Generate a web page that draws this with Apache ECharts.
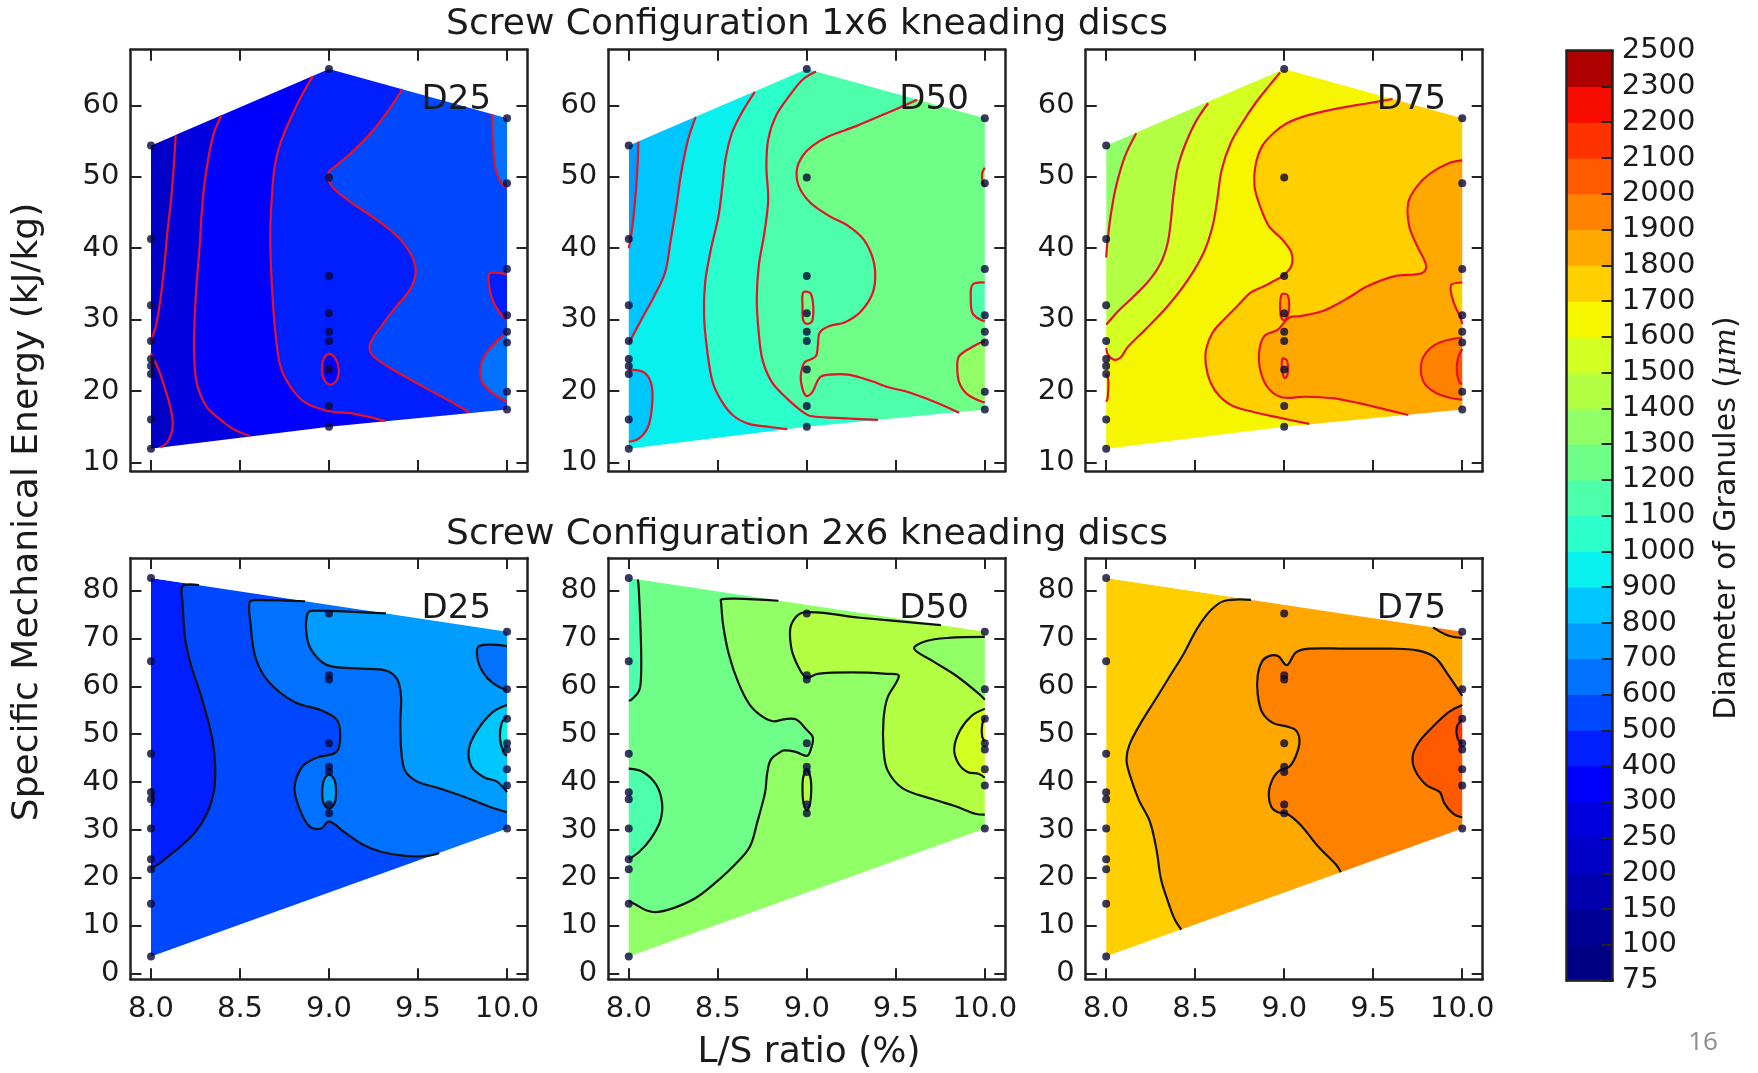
<!DOCTYPE html>
<html>
<head>
<meta charset="utf-8">
<title>Granule diameter contours</title>
<script src="https://cdn.jsdelivr.net/npm/echarts@6.0.0/dist/echarts.min.js"></script>
<style>
  html, body { margin: 0; padding: 0; background: #fff; }
  #main { width: 1758px; height: 1073px; }
</style>
</head>
<body>
<div id="main"></div>
<script>
// contour levels of the colour bar (um)
const levels = [75, 100, 150, 200, 250, 300, 400, 500, 600, 700, 800, 900, 1000, 1100, 1200,
  1300, 1400, 1500, 1600, 1700, 1800, 1900, 2000, 2100, 2200, 2300, 2500];
const xTicks = [8, 8.5, 9, 9.5, 10];
const yTicks1x6 = [10, 20, 30, 40, 50, 60];
const yTicks2x6 = [0, 10, 20, 30, 40, 50, 60, 70, 80];
const panelNames = ['D25', 'D50', 'D75'];
const rowTitles = ['Screw Configuration 1x6 kneading discs', 'Screw Configuration 2x6 kneading discs'];

// measured runs [L/S ratio, SME]
const pts1x6 = [[8, 54.4], [8, 41.3], [8, 32.0], [8, 27.0], [8, 24.5], [8, 23.5], [8, 22.4], [8, 16.0], [8, 11.9],
  [9, 65.1], [9, 49.9], [9, 36.1], [9, 30.9], [9, 28.3], [9, 27.0], [9, 23.0], [9, 17.9], [9, 15.0],
  [10, 58.2], [10, 49.1], [10, 37.1], [10, 30.6], [10, 28.3], [10, 26.8], [10, 19.9], [10, 17.4]];
const pts2x6 = [[8, 82.6], [8, 65.2], [8, 45.9], [8, 37.9], [8, 36.4], [8, 30.3], [8, 23.9], [8, 21.8], [8, 14.6], [8, 3.6],
  [9, 75.2], [9, 62.3], [9, 61.4], [9, 48.1], [9, 43.2], [9, 42.1], [9, 35.3], [9, 33.5],
  [10, 71.4], [10, 59.4], [10, 53.2], [10, 48.1], [10, 46.8], [10, 42.7], [10, 39.3], [10, 30.3]];

// outline of the triangulated area (upper and lower chains)
const hull1x6Top = [[8, 54.4], [9, 65.1], [10, 58.2]];
const hull1x6Bot = [[8, 11.9], [9, 15.0], [10, 17.4]];
const hull2x6Top = [[8, 82.6], [10, 71.4]];
const hull2x6Bot = [[8, 3.6], [10, 30.3]];

// ---- contour lines, 1x6, D25
const a25_A = [[8.139, 55.8], [8.128, 51.5], [8.113, 46.8], [8.092, 42.2], [8.075, 37.5], [8.053, 32.8], [8.028, 29.1], [8.006, 27.4], [8.0, 26.9]];
const a25_B = [[8.0, 25.3], [8.043, 23.0], [8.079, 20.3], [8.111, 17.5], [8.122, 15.1], [8.096, 13.0], [8.053, 12.1]];
const a25_C = [[8.396, 58.6], [8.353, 56.1], [8.321, 52.4], [8.299, 48.7], [8.284, 44.5], [8.272, 39.8], [8.257, 35.2], [8.246, 30.5], [8.242, 25.8], [8.257, 21.2], [8.310, 17.9], [8.385, 16.1], [8.460, 14.7], [8.556, 13.7]];
const a25_D = [[8.909, 64.1], [8.845, 61.3], [8.781, 58.0], [8.727, 54.7], [8.695, 51.5], [8.678, 46.8], [8.670, 42.2], [8.674, 37.5], [8.684, 32.8], [8.699, 28.2], [8.727, 23.5], [8.781, 20.7], [8.866, 18.4], [8.995, 17.2], [9.144, 16.8], [9.316, 15.8]];
const a25_E = [[9.412, 62.3], [9.337, 59.4], [9.251, 56.6], [9.144, 53.8], [9.048, 51.7], [8.995, 50.5], [9.016, 48.7], [9.102, 46.8], [9.209, 45.0], [9.316, 43.1], [9.401, 41.2], [9.465, 38.9], [9.487, 36.6], [9.455, 34.2], [9.380, 31.9], [9.294, 29.1], [9.234, 26.8], [9.234, 25.4], [9.294, 24.0], [9.422, 22.1], [9.551, 20.3], [9.679, 18.6], [9.786, 17.0]];
const a25_F = [[9.914, 58.8], [9.921, 55.2], [9.932, 51.5], [9.961, 49.4], [10, 48.4]];
const a25_G1 = [[10, 36.3], [9.904, 36.5], [9.899, 34.7], [9.925, 32.4], [9.968, 30.7], [10, 30.0]];
const a25_G2 = [[10, 28.2], [9.936, 26.8], [9.872, 24.9], [9.850, 23.0], [9.861, 21.2], [9.914, 19.8], [9.989, 18.6], [10, 18.5]];
const a25_H = [[9.0, 25.2], [9.035, 24.6], [9.055, 23.0], [9.045, 21.6], [9.01, 20.9], [8.975, 21.5], [8.96, 23.0], [8.97, 24.5], [9.0, 25.2]];

// ---- contour lines, 1x6, D50
const a50_L1 = [[8.054, 54.9], [8.050, 52.0], [8.040, 48.0], [8.025, 44.0], [8.008, 41.0], [8.0, 40.0]];
const a50_L2 = [[8.376, 58.4], [8.333, 55.2], [8.294, 50.5], [8.268, 46.0], [8.236, 41.2], [8.204, 36.6], [8.139, 33.1], [8.075, 30.2], [8.011, 27.2], [8.0, 26.8]];
const a50_L3 = [[8.0, 23.0], [8.086, 22.6], [8.129, 20.7], [8.129, 17.5], [8.107, 14.9], [8.054, 13.3], [8.0, 12.9]];
const a50_L4 = [[8.708, 61.9], [8.633, 58.9], [8.579, 56.1], [8.543, 52.4], [8.526, 48.7], [8.504, 44.5], [8.461, 39.8], [8.429, 35.2], [8.423, 30.5], [8.440, 25.8], [8.472, 21.2], [8.526, 18.4], [8.590, 16.5], [8.676, 15.4], [8.783, 15.0], [8.891, 14.66]];
const a50_L5 = [[9.052, 64.75], [8.976, 63.6], [8.901, 61.3], [8.826, 58.5], [8.783, 55.2], [8.773, 51.5], [8.783, 46.8], [8.762, 42.2], [8.730, 37.5], [8.719, 32.8], [8.730, 28.2], [8.751, 24.4], [8.805, 21.2], [8.891, 18.9], [8.955, 17.5], [8.994, 16.8], [9.019, 16.5], [9.105, 16.3], [9.234, 16.15], [9.40, 15.96]];
const a50_L6 = [[9.620, 60.8], [9.448, 58.9], [9.277, 57.1], [9.127, 55.7], [9.030, 54.3], [8.976, 52.9], [8.944, 51.0], [8.955, 48.7], [9.019, 46.4], [9.127, 44.5], [9.234, 43.1], [9.320, 41.2], [9.373, 38.4], [9.384, 35.6], [9.363, 33.3], [9.298, 31.0], [9.212, 29.6], [9.127, 29.1], [9.073, 28.2], [9.062, 26.3], [9.052, 24.9], [9.019, 24.4], [8.987, 24.0], [8.966, 22.1], [8.976, 20.3], [8.998, 19.3], [9.030, 19.8], [9.073, 21.9], [9.127, 22.3], [9.234, 22.3], [9.363, 21.4], [9.448, 20.6], [9.577, 19.8], [9.706, 18.6], [9.792, 17.7], [9.856, 16.95]];
const a50_L7 = [[10, 35.2], [9.931, 34.9], [9.921, 32.8], [9.931, 30.9], [9.974, 30.0], [10, 29.8]];
const a50_L8 = [[10, 27.0], [9.931, 26.2], [9.856, 24.9], [9.845, 23.5], [9.856, 21.2], [9.899, 19.6], [9.974, 18.6], [10, 18.4]];
const a50_L9 = [[8.98, 33.8], [9.02, 33.7], [9.036, 31.9], [9.03, 29.8], [9.0, 29.4], [8.98, 29.9], [8.976, 31.9], [8.98, 33.8]];
const a50_L10 = [[10, 51.3], [9.985, 50.5], [9.988, 49.2], [10, 48.6]];

// ---- contour lines, 1x6, D75
const a75_M1 = [[8.169, 56.1], [8.106, 52.9], [8.056, 48.7], [8.025, 44.5], [8.005, 40.3], [8.0, 38.7]];
const a75_M2 = [[8.573, 60.3], [8.505, 57.8], [8.447, 54.7], [8.404, 51.5], [8.379, 47.7], [8.364, 44.0], [8.346, 40.8], [8.308, 38.0], [8.245, 35.6], [8.157, 33.3], [8.068, 31.2], [8.018, 29.8], [8.0, 29.3]];
const a75_M3 = [[8.977, 64.6], [8.914, 62.7], [8.838, 60.3], [8.763, 57.5], [8.699, 54.7], [8.649, 51.0], [8.624, 46.8], [8.598, 43.1], [8.548, 39.4], [8.460, 35.6], [8.346, 31.9], [8.220, 28.6], [8.119, 26.1], [8.081, 24.7], [8.043, 24.4], [8.010, 25.1], [8.0, 26.0]];
const a75_Ms = [[8.0, 22.4], [8.012, 21.5], [8.008, 19.0], [8.0, 18.5]];
const a75_M4 = [[9.609, 60.9], [9.470, 60.3], [9.268, 59.4], [9.116, 58.5], [9.015, 57.5], [8.939, 56.1], [8.876, 54.3], [8.838, 51.5], [8.833, 48.7], [8.864, 45.9], [8.914, 43.1], [8.990, 41.2], [9.040, 39.4], [9.040, 37.5], [8.990, 36.1], [8.927, 35.2], [8.889, 34.7], [8.813, 33.8], [8.737, 31.9], [8.662, 30.0], [8.598, 28.2], [8.561, 25.8], [8.561, 23.5], [8.586, 21.2], [8.636, 19.3], [8.712, 17.9], [8.838, 17.0], [8.965, 16.3], [9.141, 15.4]];
const a75_M5 = [[10, 52.3], [9.924, 51.9], [9.823, 50.5], [9.747, 48.7], [9.697, 46.4], [9.702, 43.1], [9.747, 40.3], [9.798, 37.5], [9.773, 36.5], [9.621, 36.1], [9.470, 34.7], [9.343, 32.8], [9.217, 31.2], [9.091, 30.5], [9.028, 30.3], [8.965, 28.6], [8.889, 27.7], [8.859, 25.4], [8.869, 22.6], [8.914, 20.3], [8.990, 19.1], [9.116, 19.2], [9.268, 19.0], [9.419, 18.3], [9.571, 17.4], [9.697, 16.65]];
const a75_M6a = [[10, 35.2], [9.94, 34.9], [9.937, 33.8], [9.96, 31.9], [9.99, 30.3], [10, 29.4]];
const a75_M6b = [[10, 27.5], [9.874, 26.8], [9.798, 25.4], [9.768, 23.5], [9.785, 21.2], [9.848, 19.8], [9.924, 19.1], [10, 18.8]];
const a75_M7 = [[10, 25.9], [9.975, 24.5], [9.97, 22.6], [9.985, 21.2], [10, 21.0]];
const a75_M8 = [[8.985, 33.5], [9.02, 33.4], [9.025, 31.0], [9.0, 29.9], [8.98, 30.6], [8.985, 33.5]];
const a75_M9 = [[8.99, 24.5], [9.015, 24.3], [9.02, 22.5], [9.005, 21.8], [8.99, 22.6], [8.99, 24.5]];

// ---- contour lines, 2x6, D25
const b25_N1 = [[8.27, 81.1], [8.178, 80.9], [8.178, 77.3], [8.193, 69.8], [8.225, 64.4], [8.272, 59.1], [8.314, 53.8], [8.347, 48.5], [8.361, 43.2], [8.353, 37.9], [8.314, 33.4], [8.250, 29.6], [8.165, 26.5], [8.101, 24.6], [8.036, 22.7], [8.0, 22.0]];
const b25_N2 = [[8.866, 77.75], [8.6, 78.0], [8.554, 77.6], [8.560, 72.8], [8.582, 66.7], [8.635, 62.2], [8.721, 58.8], [8.817, 56.5], [8.892, 55.7], [8.956, 55.0], [9.042, 53.1], [9.063, 50.0], [9.042, 46.3], [8.930, 45.1], [8.849, 43.2], [8.806, 38.7], [8.838, 34.1], [8.892, 30.7], [8.956, 30.3], [8.999, 31.8], [9.085, 29.6], [9.191, 26.9], [9.298, 25.4], [9.426, 24.6], [9.555, 24.6], [9.619, 25.2]];
const b25_N3 = [[9.32, 75.2], [8.913, 75.8], [8.881, 75.3], [8.871, 72.0], [8.892, 68.2], [8.956, 65.2], [9.020, 64.1], [9.191, 63.7], [9.319, 63.3], [9.384, 61.4], [9.405, 57.6], [9.401, 53.1], [9.405, 47.0], [9.426, 42.5], [9.491, 40.2], [9.619, 38.7], [9.769, 36.8], [9.897, 34.9], [10, 33.7]];
const b25_N4 = [[10, 68.4], [9.844, 68.4], [9.833, 66.0], [9.865, 62.9], [9.919, 60.7], [10, 59.1]];
const b25_N5 = [[10, 56.1], [9.919, 54.6], [9.833, 50.8], [9.786, 47.0], [9.801, 43.2], [9.876, 40.9], [9.940, 40.2], [9.983, 38.7], [10, 37.9]];
const b25_N6 = [[10, 53.8], [9.97, 52.3], [9.96, 49.3], [9.98, 46.2], [10, 45.5]];
const b25_N7 = [[9.0, 41.6], [9.03, 40.5], [9.04, 37.9], [9.03, 35.5], [9.0, 34.5], [8.97, 35.5], [8.962, 37.9], [8.972, 40.5], [9.0, 41.6]];
const b25_N8 = [[8.0, 38.7], [8.012, 37.5], [8.01, 35.6], [8.0, 35.0]];

// ---- contour lines, 2x6, D50
const b50_P1 = [[8.05, 82.3], [8.054, 81.5], [8.062, 75.8], [8.069, 68.2], [8.069, 62.2], [8.058, 59.1], [8.015, 57.2], [8.0, 57.0]];
const b50_P2 = [[8.841, 77.85], [8.6, 78.3], [8.519, 78.1], [8.519, 77.3], [8.530, 72.8], [8.562, 66.7], [8.616, 60.7], [8.680, 56.1], [8.745, 53.8], [8.809, 52.7], [8.873, 53.1], [8.938, 53.1], [9.002, 50.8], [9.034, 49.3], [9.024, 47.0], [9.002, 45.5], [8.938, 46.3], [8.873, 46.6], [8.852, 46.3], [8.798, 44.7], [8.777, 41.7], [8.766, 37.9], [8.723, 31.8], [8.680, 26.5], [8.594, 22.7], [8.487, 19.0], [8.380, 15.9], [8.273, 14.0], [8.165, 12.9], [8.101, 13.2], [8.036, 14.5], [8.0, 15.2]];
const b50_P3 = [[8.0, 42.8], [8.079, 42.1], [8.155, 39.4], [8.187, 35.6], [8.176, 31.8], [8.122, 28.1], [8.058, 25.4], [8.0, 23.9]];
const b50_P4 = [[9.753, 72.75], [9.3, 74.3], [8.981, 75.4], [8.912, 72.8], [8.912, 68.2], [8.948, 64.4], [8.998, 61.8], [9.06, 62.6], [9.25, 62.9], [9.45, 62.6], [9.517, 62.2], [9.453, 57.6], [9.431, 53.1], [9.431, 47.0], [9.453, 42.5], [9.539, 38.7], [9.710, 36.4], [9.839, 34.9], [9.946, 33.4], [10, 33.2]];
const b50_P5 = [[10, 70.3], [9.796, 70.1], [9.667, 69.4], [9.603, 67.85], [9.710, 65.2], [9.839, 62.2], [9.968, 58.4], [10, 57.2]];
const b50_P6 = [[10, 55.3], [9.925, 53.8], [9.861, 50.8], [9.828, 47.0], [9.850, 44.0], [9.903, 42.1], [9.968, 41.7], [10, 40.9]];
const b50_P7 = [[10, 53.5], [9.985, 52.0], [9.985, 49.5], [10, 48.5]];
const b50_P8 = [[9.0, 42.5], [9.02, 41.0], [9.025, 38.3], [9.018, 35.5], [9.0, 34.1], [8.982, 35.5], [8.976, 38.3], [8.98, 41.0], [9.0, 42.5]];

// ---- contour lines, 2x6, D75
const b75_Q1 = [[8.813, 78.05], [8.662, 77.8], [8.586, 75.8], [8.510, 72.0], [8.434, 66.7], [8.359, 62.2], [8.283, 57.6], [8.194, 52.3], [8.131, 47.8], [8.114, 44.7], [8.131, 41.7], [8.182, 36.4], [8.245, 31.8], [8.283, 25.8], [8.308, 19.7], [8.346, 15.2], [8.384, 11.4], [8.422, 9.2]];
const b75_Q2 = [[10, 58.0], [9.924, 62.2], [9.848, 66.0], [9.747, 67.5], [9.596, 67.85], [9.343, 67.85], [9.141, 67.85], [9.066, 67.1], [9.015, 64.4], [8.965, 66.3], [8.914, 66.3], [8.876, 65.2], [8.851, 62.2], [8.851, 58.4], [8.876, 54.6], [8.939, 52.3], [9.015, 51.6], [9.066, 50.8], [9.086, 48.5], [9.066, 45.5], [9.028, 43.2], [8.977, 42.5], [8.939, 40.9], [8.914, 37.9], [8.927, 34.9], [8.965, 33.7], [9.015, 33.4], [9.091, 31.1], [9.192, 26.5], [9.293, 22.7], [9.318, 21.2]];
const b75_Q3 = [[10, 56.1], [9.924, 54.6], [9.836, 51.6], [9.760, 48.5], [9.722, 45.5], [9.735, 42.5], [9.798, 39.4], [9.874, 37.9], [9.899, 35.6], [9.949, 33.4], [10, 32.6]];
const b75_Q4 = [[10, 53.1], [9.97, 51.5], [9.975, 49.0], [10, 48.0]];
const b75_Q5 = [[9.836, 72.3], [9.92, 70.6], [10, 70.1]];

// filled bands: [lower level, region]; regions are closed outside the hull and masked later
const a25_fills = [
  [250, [...a25_A, ...a25_B, [8.05, -10], [11, -10], [11, 100], [8.139, 100]]],
  [300, [...a25_C, [8.556, -10], [11, -10], [11, 100], [8.396, 100]]],
  [400, [...a25_D, [9.316, -10], [11, -10], [11, 100], [8.909, 100]]],
  [500, [...a25_E, [9.786, -10], [11, -10], [11, 100], [9.412, 100]]],
  [600, [...a25_F, [11, 48.4], [11, 100], [9.914, 100]]],
  [400, [...a25_G1, [11, 30], [11, 36.3]]],
  [600, [...a25_G2, [11, 18.5], [11, 28.2]]],
  [300, a25_H]
];
const a50_fills = [
  [800, [...a50_L1, [7.5, 40], [7.5, -10], [11, -10], [11, 100], [8.054, 100]]],
  [900, [...a50_L2, ...a50_L3, [8.0, -10], [11, -10], [11, 100], [8.376, 100]]],
  [1000, [...a50_L4, [8.891, -10], [11, -10], [11, 100], [8.708, 100]]],
  [1100, [...a50_L5, [9.40, -10], [11, -10], [11, 100], [9.052, 100]]],
  [1200, [...a50_L6, [9.856, 16], [11, 16], [11, 100], [9.62, 100]]],
  [1100, [...a50_L7, [11, 29.8], [11, 35.2]]],
  [1300, [...a50_L8, [11, 18.4], [11, 27]]],
  [1200, a50_L9],
  [1300, [...a50_L10, [11, 48.6], [11, 51.3]]]
];
const a75_fills = [
  [1400, [...a75_M1, [7.5, 38.7], [7.5, -10], [11, -10], [11, 100], [8.169, 100]]],
  [1500, [...a75_M2, [7.5, 29.3], [7.5, -10], [11, -10], [11, 100], [8.573, 100]]],
  [1600, [...a75_M3, [8.0, -10], [11, -10], [11, 100], [8.977, 100]]],
  [1500, [...a75_Ms, [7.5, 18.5], [7.5, 22.4]]],
  [1700, [...a75_M4, [9.141, -10], [11, -10], [11, 100], [9.609, 100]]],
  [1800, [...a75_M5, [9.697, -10], [11, -10], [11, 52.3]]],
  [1700, [...a75_M6a, [11, 29.4], [11, 35.2]]],
  [1900, [...a75_M6b, [11, 18.8], [11, 27.5]]],
  [2000, [...a75_M7, [11, 21], [11, 25.9]]],
  [1800, a75_M8]
];
const b25_fills = [
  [500, [...b25_N1, [7.5, 22], [7.5, -10], [11, -10], [11, 100], [8.27, 100]]],
  [600, [...b25_N2, [9.619, -10], [11, -10], [11, 100], [8.866, 100]]],
  [700, [...b25_N3, [11, 33.7], [11, 100], [9.32, 100]]],
  [600, [...b25_N4, [11, 59.1], [11, 68.4]]],
  [800, [...b25_N5, [11, 37.9], [11, 56.1]]],
  [900, [...b25_N6, [11, 45.5], [11, 53.8]]],
  [700, b25_N7]
];
const b50_fills = [
  [1200, [...b50_P1, [7.5, 57], [7.5, -10], [11, -10], [11, 100], [8.05, 100]]],
  [1100, [...b50_P3, [7.5, 23.9], [7.5, 42.8]]],
  [1300, [...b50_P2, [7.5, 15.2], [7.5, -10], [11, -10], [11, 100], [8.841, 100]]],
  [1400, [...b50_P4, [11, 33.2], [11, 100], [9.753, 100]]],
  [1300, [...b50_P5, [11, 57.2], [11, 70.3]]],
  [1500, [...b50_P6, [11, 40.9], [11, 55.3]]],
  [1600, [...b50_P7, [11, 48.5], [11, 53.5]]],
  [1400, b50_P8]
];
const b75_fills = [
  [1800, [...b75_Q1, [8.422, -10], [11, -10], [11, 100], [8.813, 100]]],
  [1900, [...b75_Q2, [9.318, -10], [11, -10], [11, 58]]],
  [2000, [...b75_Q3, [11, 32.6], [11, 56.1]]],
  [2100, [...b75_Q4, [11, 48], [11, 53.1]]],
  [1900, [...b75_Q5, [11, 70.1], [11, 100], [9.836, 100]]]
];

// matplotlib "jet"
function jet(t) {
  const r = t < 0.35 ? 0 : t < 0.66 ? (t - 0.35) / 0.31 : t < 0.89 ? 1 : 1 - 0.5 * (t - 0.89) / 0.11;
  const g = t < 0.125 ? 0 : t < 0.375 ? (t - 0.125) / 0.25 : t < 0.64 ? 1 : t < 0.91 ? 1 - (t - 0.64) / 0.27 : 0;
  const b = t < 0.11 ? 0.5 + 0.5 * t / 0.11 : t < 0.34 ? 1 : t < 0.65 ? 1 - (t - 0.34) / 0.31 : 0;
  const c = v => Math.round(255 * Math.max(0, Math.min(1, v)));
  return 'rgb(' + c(r) + ',' + c(g) + ',' + c(b) + ')';
}
function bandColor(lo) {
  const i = levels.indexOf(lo);
  const mid = (levels[i] + levels[i + 1]) / 2;
  return jet((mid - levels[0]) / (levels[levels.length - 1] - levels[0]));
}

const FONT = 'DejaVu Sans';
const INK = '#1a1a1a';
const colLeft = [130.5, 608.3, 1085.7];
const rowTop = [49.7, 557.9];
const PW = 397, PH = 421.3;
const xRange = [7.885, 10.115];

const rows = [
  {
    hullTop: hull1x6Top, hullBot: hull1x6Bot, pts: pts1x6, yTicks: yTicks1x6, yRange: [8.8, 67.8],
    lineColor: '#e5122a', labelAt: [9.52, 62.9], xLabels: false,
    panels: [
      { base: 200, fills: a25_fills, lines: [a25_A, a25_B, a25_C, a25_D, a25_E, a25_F, a25_G1, a25_G2, a25_H] },
      { base: 700, fills: a50_fills, lines: [a50_L1, a50_L2, a50_L3, a50_L4, a50_L5, a50_L6, a50_L7, a50_L8, a50_L9, a50_L10] },
      { base: 1300, fills: a75_fills, lines: [a75_M1, a75_M2, a75_M3, a75_Ms, a75_M4, a75_M5, a75_M6a, a75_M6b, a75_M7, a75_M8, a75_M9] }
    ]
  },
  {
    hullTop: hull2x6Top, hullBot: hull2x6Bot, pts: pts2x6, yTicks: yTicks2x6, yRange: [-1.15, 86.8],
    lineColor: '#111111', labelAt: [9.52, 79.2], xLabels: true,
    panels: [
      { base: 400, fills: b25_fills, lines: [b25_N1, b25_N2, b25_N3, b25_N4, b25_N5, b25_N6, b25_N7, b25_N8] },
      { base: 1100, fills: b50_fills, lines: [b50_P1, b50_P2, b50_P3, b50_P4, b50_P5, b50_P6, b50_P7, b50_P8] },
      { base: 1700, fills: b75_fills, lines: [b75_Q1, b75_Q2, b75_Q3, b75_Q4, b75_Q5] }
    ]
  }
];

const frame = { show: true, onZero: false, lineStyle: { color: '#222', width: 2.5 } };
const grids = [], xAxes = [], yAxes = [], series = [];

function xAxisFor(g, pos, labels) {
  return {
    type: 'value', gridIndex: g, position: pos, min: xRange[0], max: xRange[1], z: 10,
    axisLine: frame,
    axisTick: { show: true, inside: true, length: 11, customValues: xTicks, lineStyle: { color: '#222', width: 2 } },
    axisLabel: { show: labels, customValues: xTicks, formatter: v => v.toFixed(1), margin: 16,
      fontSize: 29, fontFamily: FONT, color: INK },
    splitLine: { show: false }
  };
}
function yAxisFor(g, pos, row, labels) {
  return {
    type: 'value', gridIndex: g, position: pos, min: row.yRange[0], max: row.yRange[1], z: 10,
    axisLine: frame,
    axisTick: { show: true, inside: true, length: 11, customValues: row.yTicks, lineStyle: { color: '#222', width: 2 } },
    axisLabel: { show: labels, customValues: row.yTicks, margin: 11, fontSize: 29, fontFamily: FONT, color: INK },
    splitLine: { show: false }
  };
}

rows.forEach((row, r) => {
  const hull = [...row.hullTop, ...row.hullBot.slice().reverse()];
  const tl = row.hullTop[0], tr = row.hullTop[row.hullTop.length - 1];
  const bl = row.hullBot[0], br = row.hullBot[row.hullBot.length - 1];
  // white masks outside the hull; top and bottom ones overlap the side ones
  const masks = [
    [[7, 300], [7, tl[1]], ...row.hullTop, [11, tr[1]], [11, 300]],
    [[7, -300], [7, bl[1]], ...row.hullBot, [11, br[1]], [11, -300]],
    [[7, -300], [8, -300], [8, 300], [7, 300]],
    [[10, -300], [11, -300], [11, 300], [10, 300]]
  ];
  row.panels.forEach((panel, c) => {
    const g = r * 3 + c;
    grids.push({ left: colLeft[c], top: rowTop[r], width: PW, height: PH });
    xAxes.push(xAxisFor(g, 'bottom', row.xLabels), xAxisFor(g, 'top', false));
    yAxes.push(yAxisFor(g, 'left', row, true), yAxisFor(g, 'right', row, false));
    const ax = { xAxisIndex: 2 * g, yAxisIndex: 2 * g };

    // filled contour bands
    series.push(Object.assign({
      type: 'custom', clip: true, silent: true, z: 2, data: [row.pts[0]],
      renderItem: (params, api) => {
        const P = p => api.coord(p);
        const children = [{ type: 'polygon', shape: { points: hull.map(P) }, style: { fill: bandColor(panel.base) } }];
        panel.fills.forEach(([lv, poly]) => {
          children.push({ type: 'polygon', shape: { points: poly.map(P) }, style: { fill: bandColor(lv) } });
        });
        masks.forEach(m => {
          children.push({ type: 'polygon', shape: { points: m.map(P) }, style: { fill: '#ffffff' } });
        });
        return { type: 'group', children };
      }
    }, ax));

    // contour lines and panel label
    series.push(Object.assign({
      type: 'custom', clip: true, silent: true, z: 3, data: [row.pts[0]],
      renderItem: (params, api) => {
        const P = p => api.coord(p);
        const children = panel.lines.map(line => {
          const closed = line[0][0] === line[line.length - 1][0] && line[0][1] === line[line.length - 1][1];
          return {
            type: closed ? 'polygon' : 'polyline',
            shape: { points: (closed ? line.slice(0, -1) : line).map(P), smooth: 0.35 },
            style: { stroke: row.lineColor, lineWidth: 2.2, fill: 'none' }
          };
        });
        const at = P(row.labelAt);
        children.push({
          type: 'text', x: at[0], y: at[1] - 2,
          style: { text: panelNames[c], fontSize: 34, fontFamily: FONT, fill: INK, align: 'left', verticalAlign: 'top' }
        });
        return { type: 'group', children };
      }
    }, ax));

    // sample points
    series.push(Object.assign({
      type: 'scatter', silent: true, z: 4, data: row.pts, symbolSize: 8,
      itemStyle: { color: '#08083a' }
    }, ax));
  });
});

// colour bar
const cb = 6;
grids.push({ left: 1566.7, top: 50.7, width: 46, height: 930 });
const cbX = pos => ({ type: 'value', gridIndex: cb, position: pos, min: 0, max: 1, z: 10, axisLine: frame,
  axisTick: { show: false }, axisLabel: { show: false }, splitLine: { show: false } });
xAxes.push(cbX('bottom'), cbX('top'));
yAxes.push({
  type: 'value', gridIndex: cb, position: 'right', min: 0, max: levels.length - 1, interval: 1, z: 10,
  axisLine: frame,
  axisTick: { show: true, inside: true, length: 11, lineStyle: { color: '#222', width: 2 } },
  axisLabel: { interval: 0, margin: 9, fontSize: 29, fontFamily: FONT, color: INK, formatter: v => String(levels[v]) },
  splitLine: { show: false }
}, {
  type: 'value', gridIndex: cb, position: 'left', min: 0, max: levels.length - 1, z: 10,
  axisLine: frame, axisTick: { show: false }, axisLabel: { show: false }, splitLine: { show: false }
});
series.push({
  type: 'custom', xAxisIndex: 12, yAxisIndex: 12, silent: true,
  data: levels.slice(0, -1).map((lv, i) => [0, i, lv]),
  renderItem: (params, api) => {
    const i = api.value(1);
    const p0 = api.coord([0, i]), p1 = api.coord([1, i + 1]);
    return {
      type: 'rect',
      shape: { x: p0[0], y: p1[1] - 0.5, width: p1[0] - p0[0], height: p0[1] - p1[1] + 1 },
      style: { fill: bandColor(api.value(2)) }
    };
  }
});

const chart = echarts.init(document.getElementById('main'), null, { renderer: 'canvas' });
chart.setOption({
  backgroundColor: '#ffffff',
  animation: false,
  grid: grids,
  xAxis: xAxes,
  yAxis: yAxes,
  series: series,
  graphic: [
    { type: 'text', x: 807, y: 25, style: { text: rowTitles[0], fontSize: 36, fontFamily: FONT, fill: INK, align: 'center', verticalAlign: 'middle' } },
    { type: 'text', x: 807, y: 535, style: { text: rowTitles[1], fontSize: 36, fontFamily: FONT, fill: INK, align: 'center', verticalAlign: 'middle' } },
    { type: 'text', x: 28, y: 512, rotation: Math.PI / 2,
      style: { text: 'Specific Mechanical Energy (kJ/kg)', fontSize: 36, fontFamily: FONT, fill: INK, align: 'center', verticalAlign: 'middle' } },
    { type: 'text', x: 809, y: 1053,
      style: { text: 'L/S ratio (%)', fontSize: 36, fontFamily: FONT, fill: INK, align: 'center', verticalAlign: 'middle' } },
    { type: 'text', x: 1727, y: 518, rotation: Math.PI / 2,
      style: {
        text: 'Diameter of Granules ({it|μm})', fontSize: 30, fontFamily: FONT, fill: INK, align: 'center', verticalAlign: 'middle',
        rich: { it: { fontSize: 30, fontFamily: 'DejaVu Serif', fontStyle: 'italic', fill: INK } }
      } },
    { type: 'text', x: 1703, y: 1043,
      style: { text: '16', fontSize: 26, fontFamily: 'Open Sans', fill: '#8c8c8c', align: 'center', verticalAlign: 'middle' } }
  ]
});
</script>
</body>
</html>
